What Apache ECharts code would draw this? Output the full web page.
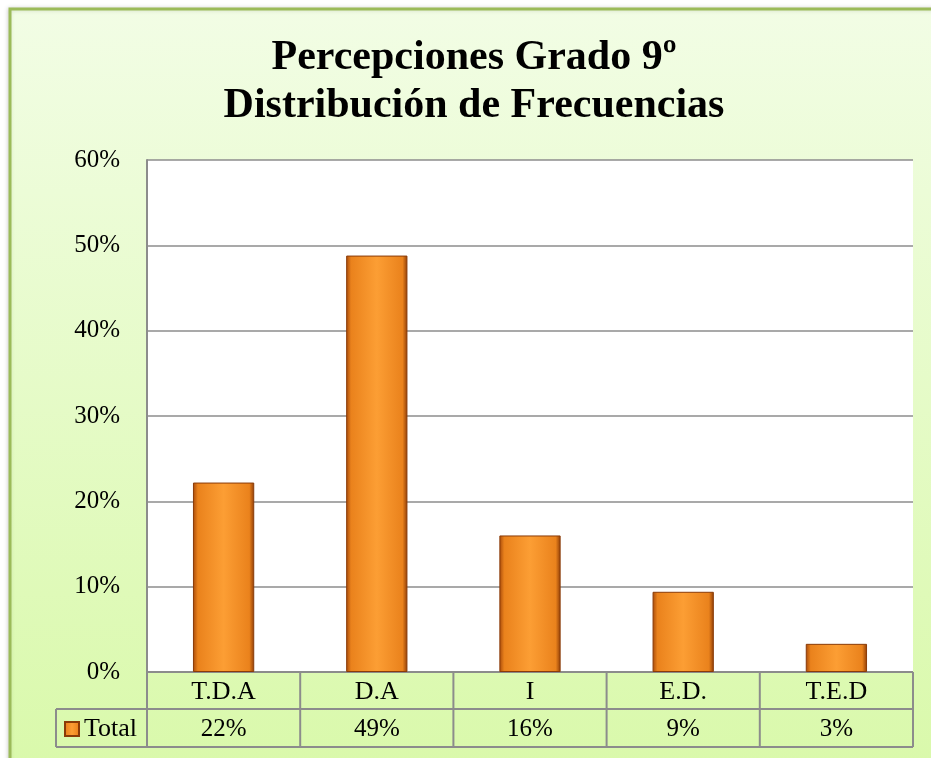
<!DOCTYPE html>
<html>
<head>
<meta charset="utf-8">
<style>
  html, body { margin: 0; padding: 0; background: #fff; }
  #chart { width: 931px; height: 758px; }
</style>
<script src="https://cdn.jsdelivr.net/npm/echarts@6/dist/echarts.min.js"></script>
</head>
<body>
<div id="chart"></div>
<script>
// datos
const categories = ['T.D.A', 'D.A', 'I', 'E.D.', 'T.E.D']
const totals = [22.2, 48.8, 16.0, 9.4, 3.3]
const yTicks = [0, 10, 20, 30, 40, 50, 60]
const seriesName = 'Total'

const FONT = '"Liberation Serif", "Times New Roman", serif'
const G = { left: 147, right: 18, top: 160, bottom: 86 }
const W = 931
const H = 758

let chart = echarts.init(document.getElementById('chart'))

// tabla de datos (lineas) debajo del eje
function tableLines () {
  const x0 = G.left
  const x1 = W - G.right
  const y0 = H - G.bottom
  const y1 = y0 + 37
  const y2 = y1 + 38
  const step = (x1 - x0) / categories.length
  const st = { stroke: '#8c8c8c', lineWidth: 2 }
  let lines = []
  lines.push({ type: 'line', shape: { x1: x0, y1: y0, x2: x1, y2: y0 }, style: st })
  lines.push({ type: 'line', shape: { x1: 56, y1: y1, x2: x1, y2: y1 }, style: st })
  lines.push({ type: 'line', shape: { x1: 56, y1: y2, x2: x1, y2: y2 }, style: st })
  lines.push({ type: 'line', shape: { x1: 56, y1: y1, x2: 56, y2: y2 }, style: st })
  for (let i = 0; i <= categories.length; i++) {
    let x = x0 + step * i
    lines.push({ type: 'line', shape: { x1: x, y1: y0, x2: x, y2: y2 }, style: st })
  }
  return lines
}

let option = {
  animation: false,
  graphic: [
    {
      type: 'rect',
      z: -10,
      shape: { x: 10, y: 9, width: W + 10, height: H + 10 },
      style: {
        fill: new echarts.graphic.LinearGradient(0, 0, 0, 1, [
          { offset: 0, color: '#f2fde5' },
          { offset: 1, color: '#d9f9aa' }
        ]),
        stroke: '#9bbb59',
        lineWidth: 3,
        shadowColor: 'rgba(0,0,0,0.15)',
        shadowBlur: 4,
        shadowOffsetX: -1
      }
    },
    {
      type: 'rect',
      z: -5,
      shape: { x: G.left, y: G.top, width: W - G.left - G.right, height: H - G.top - G.bottom },
      style: { fill: '#ffffff' }
    },
    {
      type: 'text',
      x: 474,
      y: 34,
      style: {
        text: 'Percepciones Grado 9º\nDistribución de Frecuencias',
        font: 'bold 42px ' + FONT,
        fill: '#000',
        align: 'center',
        verticalAlign: 'top',
        lineHeight: 48
      }
    },
    ...tableLines()
  ],
  legend: {
    data: [seriesName],
    icon: 'rect',
    left: 64,
    top: 716,
    padding: 0,
    itemWidth: 14,
    itemHeight: 14,
    itemGap: 5,
    textStyle: { fontFamily: FONT, fontSize: 26, color: '#000' }
  },
  grid: { left: G.left, right: G.right, top: G.top, bottom: G.bottom, containLabel: false },
  xAxis: [
    {
      type: 'category',
      data: categories,
      axisLine: { show: false },
      axisTick: { show: false },
      axisLabel: { margin: 7, fontFamily: FONT, fontSize: 26, color: '#000' }
    },
    {
      type: 'category',
      position: 'bottom',
      offset: 38,
      data: categories,
      axisLine: { show: false },
      axisTick: { show: false },
      axisLabel: {
        margin: 7,
        fontFamily: FONT,
        fontSize: 25,
        color: '#000',
        formatter: function (v, i) { return Math.round(totals[i]) + '%' }
      }
    }
  ],
  yAxis: {
    type: 'value',
    min: yTicks[0],
    max: yTicks[yTicks.length - 1],
    interval: 10,
    axisLine: { show: true, lineStyle: { color: '#8c8c8c', width: 2 } },
    axisTick: { show: false },
    axisLabel: { margin: 27, fontFamily: FONT, fontSize: 25, color: '#000', formatter: '{value}%' },
    splitLine: { lineStyle: { color: '#8c8c8c', width: 1.5 } }
  },
  series: [{
    name: seriesName,
    type: 'bar',
    data: totals,
    barWidth: '40%',
    itemStyle: {
      color: new echarts.graphic.LinearGradient(0, 0, 1, 0, [
        { offset: 0, color: '#a84a0a' },
        { offset: 0.08, color: '#ea821c' },
        { offset: 0.5, color: '#fc9e34' },
        { offset: 0.92, color: '#ea821c' },
        { offset: 1, color: '#8e3c06' }
      ]),
      borderColor: '#8a3b08',
      borderWidth: 1
    }
  }]
}

chart.setOption(option)
window.addEventListener('resize', function () {
  chart.resize()
})
</script>
</body>
</html>
